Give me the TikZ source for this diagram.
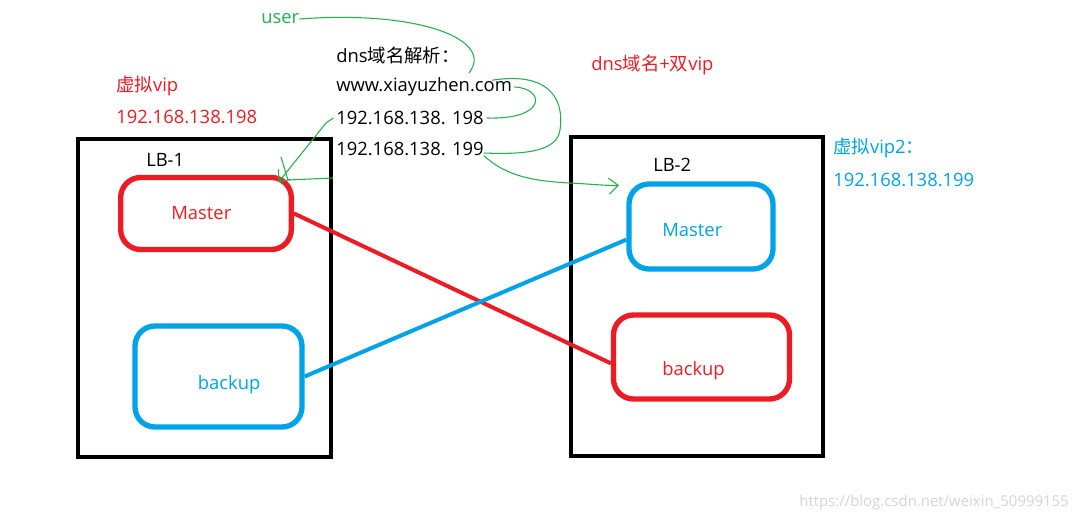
\documentclass[tikz,border=0pt]{standalone}
\usepackage{fontspec}
\setmainfont{Open Sans}
\newfontfamily\cjk{Noto Sans CJK SC}
\usepackage{tikz}
\usetikzlibrary{positioning,arrows.meta}

\definecolor{pred}{RGB}{237,28,36}
\definecolor{pblue}{RGB}{0,162,232}
\definecolor{pgreen}{RGB}{34,177,76}

\begin{document}
\begin{tikzpicture}[x=0.75pt, y=-0.75pt, >={Straight Barb[length=7pt,width=12pt]}, font=\fontsize{13.8}{16}\selectfont]
  \tikzstyle{lb}=[draw, line width=3pt, inner sep=0pt]
  \tikzstyle{srv}=[draw, line width=4pt, rounded corners=15pt, inner sep=0pt]
  \tikzstyle{txt}=[anchor=west, inner sep=0pt]
  \tikzstyle{hand}=[pgreen, line width=0.8pt]
  \useasboundingbox (0,0) rectangle (1078,523);

  % load balancers
  \node[lb, minimum width=189.75pt, minimum height=238.5pt] (lb1) at (204.5,298) {};
  \node[lb, minimum width=189pt, minimum height=239.25pt] (lb2) at (697,296.5) {};
  \node[txt] (lb1t) at (146,160) {LB-1};
  \node[txt] (lb2t) at (653,165) {LB-2};

  % servers
  \node[srv, pred, minimum width=128pt, minimum height=54pt,
        label={[pred, xshift=-3.5pt]center:Master}] (m1) at (206,213.5) {};
  \node[srv, pblue, minimum width=125.25pt, minimum height=75.75pt,
        label={[pblue, xshift=8pt, yshift=-6pt]center:backup}] (b1) at (218.5,376.5) {};
  \node[srv, pblue, minimum width=108pt, minimum height=63.75pt,
        label={[pblue, xshift=-6.5pt, yshift=-3pt]center:Master}] (m2) at (701,226.5) {};
  \node[srv, pred, minimum width=132pt, minimum height=63pt,
        label={[pred, xshift=-6pt, yshift=-10.5pt]center:backup}] (b2) at (701.5,357) {};

  \draw[pred, line width=3pt] (m1.east) -- (b2.184);
  \draw[pblue, line width=3pt] (b1.east) -- (m2.190);

  % texts
  \node[txt, pred] (vip1) at (116,86) {{\cjk 虚拟}vip};
  \node[txt, pred, below=23.25pt of vip1.west, anchor=west] (ip1) {192.168.138.198};
  \node[txt, pgreen] (user) at (261,19) {user};
  \node[txt] (dns) at (336,56) {dns{\cjk 域名解析：}};
  \node[txt, below=23.25pt of dns.west, anchor=west] (www) {www.xiayuzhen.com};
  \node[txt, below=23.25pt of www.west, anchor=west] (ip198) {192.168.138. 198};
  \node[txt, below=23.25pt of ip198.west, anchor=west] (ip199) {192.168.138. 199};
  \node[txt, pred] (title) at (591,65) {dns{\cjk 域名}+{\cjk 双}vip};
  \node[txt, pblue] (vip2) at (833,148) {{\cjk 虚拟}vip2{\cjk ：}};
  \node[txt, pblue, below=24pt of vip2.west, anchor=west] (ip2) {192.168.138.199};
  \node[anchor=east, inner sep=0pt, black!17, font=\fontsize{11.2}{13}\selectfont] (mark) at (1069,503) {https://blog.csdn.net/weixin\_50999155};

  % hand drawn arrows
  \draw[hand] (user.east) .. controls (420,10) and (495,40) .. (469,73);
  \draw[hand] ([xshift=-15pt,yshift=-2pt]www.north east) .. controls (545,72) and (565,95) .. (560,130)
    .. controls (557,150) and (530,155) .. ([yshift=-3pt]ip199.east);
  \draw[hand] ([xshift=1.5pt]www.east) .. controls (545,88) and (548,120) .. ([xshift=2pt]ip198.east);
  \draw[hand, ->] ([xshift=-2pt]ip198.west) -- (326,123) -- ([xshift=-41pt,yshift=-34pt]lb1.north east);
  \draw[hand] ([yshift=-30.75pt]lb1.north east) -- (288,180) -- (281,157);
  \draw[hand, ->] ([yshift=-5pt]ip199.east) .. controls (505,175) and (530,181) .. (570,183)
    .. controls (590,184) and (610,186) .. ([xshift=-5.5pt,yshift=-3pt]m2.north west);
\end{tikzpicture}
\end{document}
